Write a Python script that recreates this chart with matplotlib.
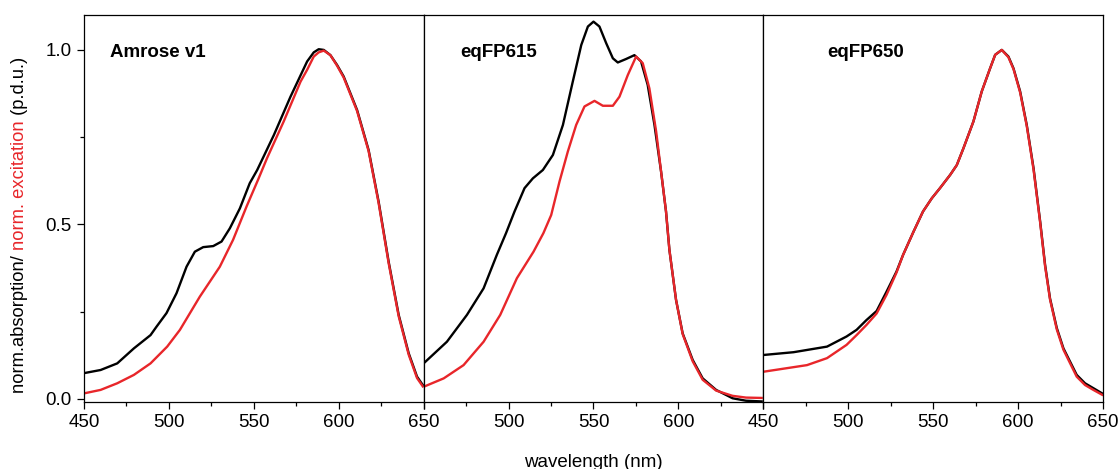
import numpy as np
import matplotlib.pyplot as plt
from matplotlib.ticker import MultipleLocator

plt.rcParams['font.family'] = ['Liberation Sans', 'DejaVu Sans']

# ---- data ----
amrose_abs_wl = [450, 459.8, 469.6, 479.4, 489.2, 492.7, 498.6, 504.5, 510.4, 515.3, 520.2,
                 526.1, 531, 535.9, 541.8, 547.6, 552, 561.8, 571.6, 581.4, 585.3, 588.2,
                 591.2, 595.1, 599, 602.9, 610.8, 617.6, 623.5, 629.4, 635.3, 641.2, 646.1,
                 649.5]
amrose_abs = [0.074, 0.083, 0.102, 0.145, 0.183, 0.207, 0.246, 0.303, 0.379, 0.422, 0.435,
              0.438, 0.451, 0.489, 0.546, 0.618, 0.656, 0.756, 0.866, 0.967, 0.993, 1.002,
              1.0, 0.985, 0.957, 0.924, 0.828, 0.713, 0.565, 0.393, 0.241, 0.131, 0.064,
              0.040]
amrose_exc_wl = [450, 459.8, 469.6, 479.4, 489.2, 499, 506.5, 518.2, 530, 537.8, 545.7,
                 552.5, 557.8, 567.6, 577.5, 581.4, 585.3, 588.2, 591.2, 595.1, 599, 602.9,
                 610.8, 617.6, 623.5, 629.4, 635.3, 641.2, 646.1, 649.5]
amrose_exc = [0.016, 0.026, 0.045, 0.069, 0.102, 0.150, 0.198, 0.293, 0.379, 0.456, 0.551,
              0.628, 0.690, 0.795, 0.909, 0.943, 0.981, 0.993, 0.998, 0.985, 0.955, 0.921,
              0.825, 0.710, 0.561, 0.389, 0.237, 0.127, 0.060, 0.036]

eq615_abs_wl = [450, 463.7, 475.5, 485.3, 493.1, 498.5, 503.5, 509.4, 514.3, 520.2, 526.1,
                532, 537.8, 542.8, 546.7, 550, 553.5, 557.5, 561.4, 564.3, 569.2, 574.1,
                578, 581.9, 585.9, 589.8, 592.7, 594.7, 598.6, 602.5, 608.4, 614.3, 622.2,
                631.9, 639.8, 649]
eq615_abs = [0.102, 0.164, 0.241, 0.317, 0.413, 0.475, 0.537, 0.604, 0.632, 0.656, 0.699,
             0.785, 0.909, 1.014, 1.067, 1.081, 1.067, 1.019, 0.976, 0.964, 0.974, 0.985,
             0.967, 0.900, 0.785, 0.651, 0.537, 0.427, 0.284, 0.188, 0.112, 0.059, 0.026,
             0.002, -0.005, -0.007]
eq615_exc_wl = [450, 461.8, 473.5, 485.3, 495.1, 504.9, 514.7, 520.5, 525.1, 530, 534.9,
                539.8, 544.7, 550.6, 555.5, 561.4, 565.3, 570.2, 575.1, 579, 582.9, 586.9,
                592.7, 594.7, 598.6, 602.5, 608.4, 614.3, 622.2, 631.9, 639.8, 649]
eq615_exc = [0.035, 0.059, 0.097, 0.164, 0.241, 0.346, 0.422, 0.475, 0.527, 0.623, 0.709,
             0.785, 0.838, 0.854, 0.840, 0.840, 0.866, 0.928, 0.981, 0.962, 0.890, 0.766,
             0.537, 0.427, 0.284, 0.186, 0.108, 0.055, 0.024, 0.009, 0.004, 0.003]

eq650_abs_wl = [450, 467.8, 487.5, 499, 504.9, 510.7, 516.7, 522.5, 528.4, 532.3, 538.4,
                544, 549.2, 554, 560, 563.9, 567.8, 573.7, 578.6, 583.5, 586.5, 590.4,
                594.3, 597.3, 601.2, 605.1, 609.1, 613, 615.9, 618.8, 622.8, 626.7, 634.5,
                639.4, 644.3, 649.5]
eq650_abs = [0.126, 0.134, 0.150, 0.179, 0.198, 0.226, 0.252, 0.307, 0.365, 0.413, 0.479,
             0.537, 0.575, 0.604, 0.642, 0.670, 0.718, 0.795, 0.881, 0.947, 0.986, 1.0,
             0.981, 0.947, 0.881, 0.785, 0.661, 0.508, 0.384, 0.288, 0.203, 0.145, 0.069,
             0.045, 0.031, 0.016]
eq650_exc_wl = [450, 475.7, 487.5, 499, 504.9, 510.7, 516.7, 522.5, 528.4, 532.3, 538.4,
                544, 549.2, 554, 560, 563.9, 567.8, 573.7, 578.6, 583.5, 586.5, 590.4,
                594.3, 597.3, 601.2, 605.1, 609.1, 613, 615.9, 618.8, 622.8, 626.7, 634.5,
                639.4, 644.3, 649.5]
eq650_exc = [0.078, 0.097, 0.117, 0.155, 0.183, 0.212, 0.245, 0.298, 0.362, 0.413, 0.479,
             0.537, 0.575, 0.604, 0.642, 0.670, 0.718, 0.795, 0.881, 0.947, 0.986, 1.0,
             0.979, 0.945, 0.878, 0.782, 0.657, 0.505, 0.380, 0.285, 0.199, 0.141, 0.064,
             0.040, 0.026, 0.012]

names = ['Amrose v1', 'eqFP615', 'eqFP650']
name_x = [0.076, 0.108, 0.187]
xticks = [450, 500, 550, 600, 650]
xticklabels = [['450', '500', '550', '600', '650'],
               ['', '500', '550', '600', ''],
               ['450', '500', '550', '600', '650']]

RED = '#e8262a'

fig, axes = plt.subplots(1, 3, sharey=True, figsize=(11.18, 4.69), dpi=100)
fig.subplots_adjust(left=0.0751, right=0.9866, top=0.968, bottom=0.1429, wspace=0)

series = [(amrose_abs_wl, amrose_abs, amrose_exc_wl, amrose_exc),
          (eq615_abs_wl, eq615_abs, eq615_exc_wl, eq615_exc),
          (eq650_abs_wl, eq650_abs, eq650_exc_wl, eq650_exc)]

for i, ax in enumerate(axes):
    awl, a, ewl, e = series[i]
    ax.plot(awl, a, color='black', lw=1.7, solid_joinstyle='round')
    ax.plot(ewl, e, color=RED, lw=1.7, solid_joinstyle='round')
    ax.set_xlim(450, 650)
    ax.set_ylim(-0.0086, 1.1)
    ax.set_xticks(xticks)
    ax.set_xticklabels(xticklabels[i])
    ax.xaxis.set_minor_locator(MultipleLocator(25))
    ax.tick_params(axis='both', which='major', direction='out', length=5, width=0.9,
                   labelsize=13.5, pad=4)
    ax.tick_params(axis='both', which='minor', direction='out', length=3, width=0.9)
    for sp in ax.spines.values():
        sp.set_linewidth(0.9)
    ax.text(name_x[i], 0.902, names[i], transform=ax.transAxes, fontsize=13.5,
            fontweight='bold', va='center', ha='left')
    if i > 0:
        ax.tick_params(axis='y', which='both', left=False, labelleft=False)

axes[0].set_yticks([0.0, 0.5, 1.0])
axes[0].set_yticklabels(['0.0', '0.5', '1.0'])
axes[0].yaxis.set_minor_locator(MultipleLocator(0.25))

fig.text(593 / 1118, 1 - 462 / 469, 'wavelength (nm)', ha='center', va='center', fontsize=13.5)

# multi-coloured y label, built piece by piece from the bottom
renderer = fig.canvas.get_renderer()
pieces = [('norm.absorption/ ', 'black'), ('norm. excitation', RED), (' (p.d.u.)', 'black')]
ybot = 393.0
for txt, col in pieces:
    t = fig.text(20 / 1118, 1 - ybot / 469, txt, rotation=90, color=col, fontsize=13.2,
                 ha='center', va='bottom')
    bb = t.get_window_extent(renderer)
    ybot -= bb.height

fig.savefig('out.png', dpi=100)
